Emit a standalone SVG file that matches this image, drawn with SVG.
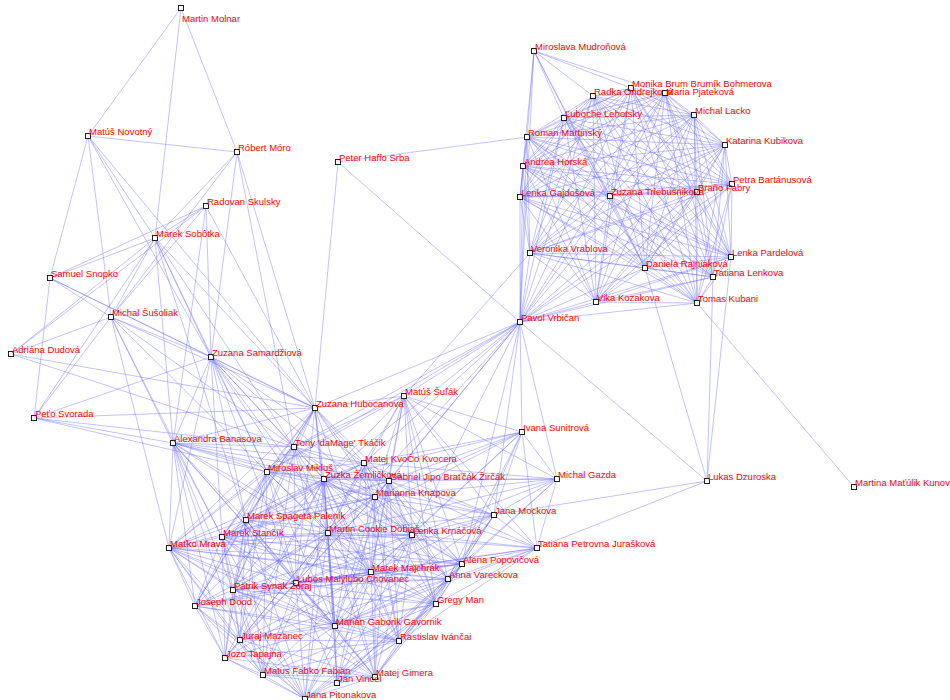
<svg xmlns="http://www.w3.org/2000/svg" xmlns:xlink="http://www.w3.org/1999/xlink" width="950" height="700" viewBox="0 0 950 700">
<style>
#edges path{fill:none;stroke:#6a6aff;stroke-opacity:.4;stroke-width:1}
.sq{fill:#fff;stroke:#222;stroke-width:1}
text{font-family:"Liberation Sans",Arial,sans-serif;font-size:9.5px;fill:#ff0000}
</style>
<defs><rect id="sq" class="sq" x="-2.5" y="-2.5" width="5" height="5"/></defs>
<rect width="950" height="700" fill="#fff"/>
<g id="edges">
<!-- upper-right group -->
<path d="M534 51L631 88"/><path d="M534 51L665 93"/><path d="M534 51L593 96"/><path d="M534 51L564 118"/><path d="M534 51L527 137"/><path d="M534 51L520 197"/><path d="M534 51L610 196"/><path d="M534 51L645 268"/><path d="M534 51L520 322"/>
<path d="M631 88L665 93"/><path d="M631 88L593 96"/><path d="M631 88L564 118"/><path d="M631 88L694 115"/><path d="M631 88L527 137"/><path d="M631 88L725 145"/><path d="M631 88L523 166"/><path d="M631 88L732 184"/><path d="M631 88L697 192"/><path d="M631 88L520 197"/><path d="M631 88L610 196"/><path d="M631 88L530 253"/><path d="M631 88L731 257"/><path d="M631 88L645 268"/><path d="M631 88L713 277"/><path d="M631 88L596 302"/><path d="M631 88L697 303"/><path d="M631 88L520 322"/>
<path d="M665 93L593 96"/><path d="M665 93L564 118"/><path d="M665 93L694 115"/><path d="M665 93L527 137"/><path d="M665 93L725 145"/><path d="M665 93L523 166"/><path d="M665 93L732 184"/><path d="M665 93L697 192"/><path d="M665 93L520 197"/><path d="M665 93L610 196"/><path d="M665 93L530 253"/><path d="M665 93L731 257"/><path d="M665 93L645 268"/><path d="M665 93L713 277"/><path d="M665 93L596 302"/><path d="M665 93L697 303"/><path d="M665 93L520 322"/>
<path d="M593 96L564 118"/><path d="M593 96L694 115"/><path d="M593 96L527 137"/><path d="M593 96L725 145"/><path d="M593 96L523 166"/><path d="M593 96L732 184"/><path d="M593 96L697 192"/><path d="M593 96L520 197"/><path d="M593 96L610 196"/><path d="M593 96L530 253"/><path d="M593 96L731 257"/><path d="M593 96L645 268"/><path d="M593 96L713 277"/><path d="M593 96L596 302"/><path d="M593 96L697 303"/><path d="M593 96L520 322"/>
<path d="M564 118L694 115"/><path d="M564 118L527 137"/><path d="M564 118L725 145"/><path d="M564 118L523 166"/><path d="M564 118L732 184"/><path d="M564 118L697 192"/><path d="M564 118L520 197"/><path d="M564 118L610 196"/><path d="M564 118L530 253"/><path d="M564 118L731 257"/><path d="M564 118L645 268"/><path d="M564 118L713 277"/><path d="M564 118L596 302"/><path d="M564 118L697 303"/><path d="M564 118L520 322"/>
<path d="M694 115L527 137"/><path d="M694 115L725 145"/><path d="M694 115L523 166"/><path d="M694 115L732 184"/><path d="M694 115L697 192"/><path d="M694 115L520 197"/><path d="M694 115L610 196"/><path d="M694 115L530 253"/><path d="M694 115L731 257"/><path d="M694 115L645 268"/><path d="M694 115L713 277"/><path d="M694 115L596 302"/><path d="M694 115L697 303"/><path d="M694 115L520 322"/>
<path d="M527 137L725 145"/><path d="M527 137L523 166"/><path d="M527 137L732 184"/><path d="M527 137L697 192"/><path d="M527 137L520 197"/><path d="M527 137L610 196"/><path d="M527 137L530 253"/><path d="M527 137L731 257"/><path d="M527 137L645 268"/><path d="M527 137L713 277"/><path d="M527 137L596 302"/><path d="M527 137L697 303"/><path d="M527 137L520 322"/>
<path d="M725 145L523 166"/><path d="M725 145L732 184"/><path d="M725 145L697 192"/><path d="M725 145L520 197"/><path d="M725 145L610 196"/><path d="M725 145L530 253"/><path d="M725 145L731 257"/><path d="M725 145L645 268"/><path d="M725 145L713 277"/><path d="M725 145L596 302"/><path d="M725 145L697 303"/><path d="M725 145L520 322"/>
<path d="M523 166L732 184"/><path d="M523 166L697 192"/><path d="M523 166L520 197"/><path d="M523 166L610 196"/><path d="M523 166L530 253"/><path d="M523 166L731 257"/><path d="M523 166L645 268"/><path d="M523 166L713 277"/><path d="M523 166L596 302"/><path d="M523 166L697 303"/><path d="M523 166L520 322"/>
<path d="M732 184L697 192"/><path d="M732 184L520 197"/><path d="M732 184L610 196"/><path d="M732 184L530 253"/><path d="M732 184L731 257"/><path d="M732 184L645 268"/><path d="M732 184L713 277"/><path d="M732 184L596 302"/><path d="M732 184L697 303"/><path d="M732 184L520 322"/>
<path d="M697 192L520 197"/><path d="M697 192L610 196"/><path d="M697 192L530 253"/><path d="M697 192L731 257"/><path d="M697 192L645 268"/><path d="M697 192L713 277"/><path d="M697 192L596 302"/><path d="M697 192L697 303"/><path d="M697 192L520 322"/>
<path d="M520 197L610 196"/><path d="M520 197L530 253"/><path d="M520 197L731 257"/><path d="M520 197L645 268"/><path d="M520 197L713 277"/><path d="M520 197L596 302"/><path d="M520 197L697 303"/><path d="M520 197L520 322"/>
<path d="M610 196L530 253"/><path d="M610 196L731 257"/><path d="M610 196L645 268"/><path d="M610 196L713 277"/><path d="M610 196L596 302"/><path d="M610 196L697 303"/><path d="M610 196L520 322"/>
<path d="M530 253L731 257"/><path d="M530 253L645 268"/><path d="M530 253L713 277"/><path d="M530 253L596 302"/><path d="M530 253L697 303"/><path d="M530 253L520 322"/>
<path d="M731 257L645 268"/><path d="M731 257L713 277"/><path d="M731 257L596 302"/><path d="M731 257L697 303"/><path d="M731 257L520 322"/>
<path d="M645 268L713 277"/><path d="M645 268L596 302"/><path d="M645 268L697 303"/><path d="M645 268L520 322"/>
<path d="M713 277L596 302"/><path d="M713 277L697 303"/><path d="M713 277L520 322"/>
<path d="M596 302L697 303"/><path d="M596 302L520 322"/><path d="M697 303L520 322"/>
<!-- links between the groups -->
<path d="M520 322L315 408"/><path d="M520 322L404 396"/><path d="M520 322L294 447"/><path d="M520 322L522 432"/><path d="M520 322L364 463"/><path d="M520 322L267 472"/><path d="M520 322L324 479"/><path d="M520 322L389 481"/><path d="M520 322L557 479"/><path d="M520 322L375 497"/><path d="M520 322L494 515"/><path d="M520 322L328 533"/><path d="M520 322L412 535"/><path d="M520 322L462 564"/>
<path d="M530 253L404 396"/>
<path d="M707 481L645 268"/><path d="M707 481L713 277"/><path d="M707 481L731 257"/><path d="M707 481L520 322"/><path d="M707 481L494 515"/><path d="M707 481L537 548"/>
<path d="M854 487L697 303"/>
<!-- left group -->
<path d="M181 8L88 136"/><path d="M181 8L237 152"/><path d="M181 8L155 238"/>
<path d="M88 136L237 152"/><path d="M88 136L50 278"/><path d="M88 136L111 317"/><path d="M88 136L155 238"/><path d="M88 136L211 357"/><path d="M88 136L315 408"/>
<path d="M237 152L155 238"/><path d="M237 152L111 317"/><path d="M237 152L211 357"/><path d="M237 152L315 408"/><path d="M237 152L294 447"/>
<path d="M206 206L155 238"/><path d="M206 206L50 278"/><path d="M206 206L111 317"/><path d="M206 206L11 354"/><path d="M206 206L211 357"/><path d="M206 206L315 408"/><path d="M206 206L173 443"/>
<path d="M338 162L527 137"/><path d="M338 162L315 408"/><path d="M338 162L520 322"/>
<path d="M155 238L50 278"/><path d="M155 238L111 317"/><path d="M155 238L11 354"/><path d="M155 238L211 357"/><path d="M155 238L34 418"/><path d="M155 238L315 408"/><path d="M155 238L173 443"/><path d="M155 238L294 447"/><path d="M155 238L267 472"/><path d="M155 238L246 520"/>
<path d="M50 278L111 317"/><path d="M50 278L211 357"/><path d="M50 278L34 418"/><path d="M50 278L315 408"/>
<path d="M111 317L11 354"/><path d="M111 317L211 357"/><path d="M111 317L34 418"/><path d="M111 317L315 408"/><path d="M111 317L173 443"/><path d="M111 317L294 447"/><path d="M111 317L169 548"/><path d="M111 317L222 537"/><path d="M111 317L267 472"/>
<path d="M11 354L315 408"/><path d="M11 354L294 447"/>
<path d="M211 357L34 418"/><path d="M211 357L315 408"/><path d="M211 357L173 443"/><path d="M211 357L294 447"/><path d="M211 357L267 472"/><path d="M211 357L324 479"/><path d="M211 357L246 520"/><path d="M211 357L328 533"/><path d="M211 357L222 537"/><path d="M211 357L169 548"/><path d="M211 357L296 583"/><path d="M211 357L364 463"/><path d="M211 357L371 572"/><path d="M211 357L375 497"/>
<path d="M34 418L315 408"/><path d="M34 418L173 443"/><path d="M34 418L294 447"/><path d="M34 418L267 472"/>
<!-- lower group -->
<path d="M315 408L404 396"/><path d="M315 408L173 443"/><path d="M315 408L294 447"/><path d="M315 408L364 463"/><path d="M315 408L267 472"/><path d="M315 408L324 479"/><path d="M315 408L389 481"/><path d="M315 408L375 497"/><path d="M315 408L246 520"/><path d="M315 408L328 533"/><path d="M315 408L222 537"/><path d="M315 408L169 548"/><path d="M315 408L371 572"/><path d="M315 408L296 583"/><path d="M315 408L233 590"/><path d="M315 408L335 626"/><path d="M315 408L412 535"/><path d="M315 408L195 606"/>
<path d="M404 396L294 447"/><path d="M404 396L522 432"/><path d="M404 396L364 463"/><path d="M404 396L324 479"/><path d="M404 396L389 481"/><path d="M404 396L557 479"/><path d="M404 396L375 497"/><path d="M404 396L494 515"/><path d="M404 396L328 533"/><path d="M404 396L412 535"/><path d="M404 396L537 548"/><path d="M404 396L462 564"/><path d="M404 396L371 572"/><path d="M404 396L448 579"/><path d="M404 396L267 472"/><path d="M404 396L436 604"/>
<path d="M173 443L294 447"/><path d="M173 443L267 472"/><path d="M173 443L324 479"/><path d="M173 443L246 520"/><path d="M173 443L328 533"/><path d="M173 443L222 537"/><path d="M173 443L169 548"/><path d="M173 443L296 583"/><path d="M173 443L233 590"/><path d="M173 443L195 606"/><path d="M173 443L240 640"/><path d="M173 443L225 658"/><path d="M173 443L364 463"/><path d="M173 443L375 497"/><path d="M173 443L371 572"/><path d="M173 443L335 626"/><path d="M173 443L389 481"/>
<path d="M294 447L364 463"/><path d="M294 447L267 472"/><path d="M294 447L324 479"/><path d="M294 447L389 481"/><path d="M294 447L375 497"/><path d="M294 447L246 520"/><path d="M294 447L328 533"/><path d="M294 447L222 537"/><path d="M294 447L296 583"/><path d="M294 447L233 590"/><path d="M294 447L371 572"/><path d="M294 447L335 626"/><path d="M294 447L169 548"/><path d="M294 447L412 535"/><path d="M294 447L263 675"/>
<path d="M522 432L364 463"/><path d="M522 432L324 479"/><path d="M522 432L389 481"/><path d="M522 432L557 479"/><path d="M522 432L375 497"/><path d="M522 432L494 515"/><path d="M522 432L412 535"/><path d="M522 432L537 548"/><path d="M522 432L462 564"/><path d="M522 432L448 579"/><path d="M522 432L328 533"/><path d="M522 432L371 572"/>
<path d="M364 463L267 472"/><path d="M364 463L324 479"/><path d="M364 463L389 481"/><path d="M364 463L557 479"/><path d="M364 463L375 497"/><path d="M364 463L494 515"/><path d="M364 463L246 520"/><path d="M364 463L328 533"/><path d="M364 463L412 535"/><path d="M364 463L222 537"/><path d="M364 463L371 572"/><path d="M364 463L296 583"/><path d="M364 463L335 626"/><path d="M364 463L462 564"/><path d="M364 463L448 579"/><path d="M364 463L399 641"/>
<path d="M267 472L324 479"/><path d="M267 472L389 481"/><path d="M267 472L375 497"/><path d="M267 472L246 520"/><path d="M267 472L328 533"/><path d="M267 472L222 537"/><path d="M267 472L169 548"/><path d="M267 472L296 583"/><path d="M267 472L233 590"/><path d="M267 472L195 606"/><path d="M267 472L335 626"/><path d="M267 472L240 640"/><path d="M267 472L371 572"/><path d="M267 472L263 675"/><path d="M267 472L412 535"/>
<path d="M324 479L389 481"/><path d="M324 479L557 479"/><path d="M324 479L375 497"/><path d="M324 479L246 520"/><path d="M324 479L328 533"/><path d="M324 479L412 535"/><path d="M324 479L222 537"/><path d="M324 479L169 548"/><path d="M324 479L371 572"/><path d="M324 479L296 583"/><path d="M324 479L233 590"/><path d="M324 479L335 626"/><path d="M324 479L399 641"/><path d="M324 479L375 677"/><path d="M324 479L337 683"/><path d="M324 479L305 699"/><path d="M324 479L195 606"/><path d="M324 479L240 640"/><path d="M324 479L225 658"/><path d="M324 479L494 515"/><path d="M324 479L462 564"/><path d="M324 479L448 579"/><path d="M324 479L436 604"/>
<path d="M389 481L557 479"/><path d="M389 481L375 497"/><path d="M389 481L494 515"/><path d="M389 481L328 533"/><path d="M389 481L412 535"/><path d="M389 481L537 548"/><path d="M389 481L462 564"/><path d="M389 481L371 572"/><path d="M389 481L448 579"/><path d="M389 481L296 583"/><path d="M389 481L436 604"/><path d="M389 481L335 626"/><path d="M389 481L399 641"/><path d="M389 481L246 520"/><path d="M389 481L222 537"/><path d="M389 481L375 677"/>
<path d="M557 479L375 497"/><path d="M557 479L494 515"/><path d="M557 479L412 535"/><path d="M557 479L537 548"/><path d="M557 479L462 564"/><path d="M557 479L328 533"/><path d="M557 479L448 579"/>
<path d="M375 497L494 515"/><path d="M375 497L246 520"/><path d="M375 497L328 533"/><path d="M375 497L412 535"/><path d="M375 497L222 537"/><path d="M375 497L537 548"/><path d="M375 497L462 564"/><path d="M375 497L371 572"/><path d="M375 497L448 579"/><path d="M375 497L296 583"/><path d="M375 497L436 604"/><path d="M375 497L335 626"/><path d="M375 497L399 641"/><path d="M375 497L375 677"/><path d="M375 497L337 683"/><path d="M375 497L169 548"/><path d="M375 497L233 590"/>
<path d="M494 515L328 533"/><path d="M494 515L412 535"/><path d="M494 515L537 548"/><path d="M494 515L462 564"/><path d="M494 515L371 572"/><path d="M494 515L448 579"/><path d="M494 515L436 604"/><path d="M494 515L399 641"/><path d="M494 515L335 626"/><path d="M494 515L296 583"/>
<path d="M246 520L328 533"/><path d="M246 520L222 537"/><path d="M246 520L169 548"/><path d="M246 520L371 572"/><path d="M246 520L296 583"/><path d="M246 520L233 590"/><path d="M246 520L195 606"/><path d="M246 520L335 626"/><path d="M246 520L240 640"/><path d="M246 520L225 658"/><path d="M246 520L263 675"/><path d="M246 520L412 535"/><path d="M246 520L305 699"/><path d="M246 520L375 677"/>
<path d="M328 533L412 535"/><path d="M328 533L222 537"/><path d="M328 533L169 548"/><path d="M328 533L537 548"/><path d="M328 533L462 564"/><path d="M328 533L371 572"/><path d="M328 533L448 579"/><path d="M328 533L296 583"/><path d="M328 533L233 590"/><path d="M328 533L195 606"/><path d="M328 533L436 604"/><path d="M328 533L335 626"/><path d="M328 533L240 640"/><path d="M328 533L399 641"/><path d="M328 533L225 658"/><path d="M328 533L263 675"/><path d="M328 533L375 677"/><path d="M328 533L337 683"/><path d="M328 533L305 699"/>
<path d="M412 535L222 537"/><path d="M412 535L537 548"/><path d="M412 535L462 564"/><path d="M412 535L371 572"/><path d="M412 535L448 579"/><path d="M412 535L296 583"/><path d="M412 535L436 604"/><path d="M412 535L335 626"/><path d="M412 535L399 641"/><path d="M412 535L375 677"/><path d="M412 535L337 683"/><path d="M412 535L169 548"/><path d="M412 535L233 590"/><path d="M412 535L305 699"/>
<path d="M222 537L169 548"/><path d="M222 537L371 572"/><path d="M222 537L296 583"/><path d="M222 537L233 590"/><path d="M222 537L195 606"/><path d="M222 537L335 626"/><path d="M222 537L240 640"/><path d="M222 537L225 658"/><path d="M222 537L263 675"/><path d="M222 537L305 699"/><path d="M222 537L462 564"/><path d="M222 537L436 604"/><path d="M222 537L375 677"/>
<path d="M169 548L371 572"/><path d="M169 548L296 583"/><path d="M169 548L233 590"/><path d="M169 548L195 606"/><path d="M169 548L335 626"/><path d="M169 548L240 640"/><path d="M169 548L225 658"/><path d="M169 548L263 675"/><path d="M169 548L305 699"/><path d="M169 548L448 579"/><path d="M169 548L462 564"/><path d="M169 548L399 641"/><path d="M169 548L375 677"/>
<path d="M537 548L462 564"/><path d="M537 548L371 572"/><path d="M537 548L448 579"/><path d="M537 548L436 604"/><path d="M537 548L296 583"/><path d="M537 548L335 626"/><path d="M537 548L399 641"/>
<path d="M462 564L371 572"/><path d="M462 564L448 579"/><path d="M462 564L296 583"/><path d="M462 564L436 604"/><path d="M462 564L335 626"/><path d="M462 564L399 641"/><path d="M462 564L375 677"/><path d="M462 564L337 683"/><path d="M462 564L233 590"/><path d="M462 564L195 606"/>
<path d="M371 572L448 579"/><path d="M371 572L296 583"/><path d="M371 572L233 590"/><path d="M371 572L195 606"/><path d="M371 572L436 604"/><path d="M371 572L335 626"/><path d="M371 572L240 640"/><path d="M371 572L399 641"/><path d="M371 572L225 658"/><path d="M371 572L263 675"/><path d="M371 572L375 677"/><path d="M371 572L337 683"/><path d="M371 572L305 699"/>
<path d="M448 579L296 583"/><path d="M448 579L436 604"/><path d="M448 579L335 626"/><path d="M448 579L399 641"/><path d="M448 579L375 677"/><path d="M448 579L337 683"/><path d="M448 579L305 699"/><path d="M448 579L233 590"/><path d="M448 579L240 640"/>
<path d="M296 583L233 590"/><path d="M296 583L195 606"/><path d="M296 583L436 604"/><path d="M296 583L335 626"/><path d="M296 583L240 640"/><path d="M296 583L399 641"/><path d="M296 583L225 658"/><path d="M296 583L263 675"/><path d="M296 583L375 677"/><path d="M296 583L337 683"/><path d="M296 583L305 699"/>
<path d="M233 590L195 606"/><path d="M233 590L335 626"/><path d="M233 590L240 640"/><path d="M233 590L225 658"/><path d="M233 590L263 675"/><path d="M233 590L305 699"/><path d="M233 590L436 604"/><path d="M233 590L399 641"/>
<path d="M195 606L335 626"/><path d="M195 606L240 640"/><path d="M195 606L225 658"/><path d="M195 606L263 675"/><path d="M195 606L305 699"/><path d="M195 606L399 641"/>
<path d="M436 604L335 626"/><path d="M436 604L399 641"/><path d="M436 604L375 677"/><path d="M436 604L337 683"/><path d="M436 604L305 699"/><path d="M436 604L240 640"/><path d="M436 604L263 675"/>
<path d="M335 626L240 640"/><path d="M335 626L399 641"/><path d="M335 626L225 658"/><path d="M335 626L263 675"/><path d="M335 626L375 677"/><path d="M335 626L337 683"/><path d="M335 626L305 699"/>
<path d="M240 640L225 658"/><path d="M240 640L263 675"/><path d="M240 640L305 699"/><path d="M240 640L399 641"/><path d="M240 640L375 677"/>
<path d="M399 641L375 677"/><path d="M399 641L337 683"/><path d="M399 641L305 699"/><path d="M399 641L225 658"/><path d="M399 641L263 675"/>
<path d="M225 658L263 675"/><path d="M225 658L305 699"/><path d="M225 658L375 677"/>
<path d="M263 675L337 683"/><path d="M263 675L305 699"/><path d="M263 675L375 677"/>
<path d="M375 677L337 683"/><path d="M375 677L305 699"/><path d="M337 683L305 699"/>
</g>
<g id="nodes">
<g id="n-miroslava-mudronova"><use xlink:href="#sq" x="534" y="51"/><text x="535" y="50">Miroslava Mudroňová</text></g>
<g id="n-monika-bohmerova"><use xlink:href="#sq" x="631" y="88"/><text x="632" y="87">Monika Brum Brumík Bohmerova</text></g>
<g id="n-radka-ondrejkova"><use xlink:href="#sq" x="593" y="96"/><text x="594" y="95">Radka Ondrejková</text></g>
<g id="n-maria-pjatekova"><use xlink:href="#sq" x="665" y="93"/><text x="666" y="95">Maria Pjateková</text></g>
<g id="n-luboche-lehotsky"><use xlink:href="#sq" x="564" y="118"/><text x="565" y="117">Ľuboche Lehotsky</text></g>
<g id="n-michal-lacko"><use xlink:href="#sq" x="694" y="115"/><text x="695" y="114">Michal Lacko</text></g>
<g id="n-roman-martinsky"><use xlink:href="#sq" x="527" y="137"/><text x="528" y="136">Roman Martinský</text></g>
<g id="n-katarina-kubikova"><use xlink:href="#sq" x="725" y="145"/><text x="726" y="144">Katarina Kubikova</text></g>
<g id="n-andrea-horska"><use xlink:href="#sq" x="523" y="166"/><text x="524" y="165">Andrea Horská</text></g>
<g id="n-petra-bartanusova"><use xlink:href="#sq" x="732" y="184"/><text x="733" y="183">Petra Bartánusová</text></g>
<g id="n-brano-fabry"><use xlink:href="#sq" x="697" y="192"/><text x="698" y="191">Braňo Fabry</text></g>
<g id="n-lenka-gajdosova"><use xlink:href="#sq" x="520" y="197"/><text x="521" y="196">Lenka Gajdošová</text></g>
<g id="n-zuzana-triebusnikova"><use xlink:href="#sq" x="610" y="196"/><text x="611" y="195">Zuzana Triebusniková</text></g>
<g id="n-veronika-vrablova"><use xlink:href="#sq" x="530" y="253"/><text x="531" y="252">Veronika Vrablova</text></g>
<g id="n-lenka-pardelova"><use xlink:href="#sq" x="731" y="257"/><text x="732" y="256">Lenka Pardelová</text></g>
<g id="n-daniela-rajniakova"><use xlink:href="#sq" x="645" y="268"/><text x="646" y="267">Daniela Rajniaková</text></g>
<g id="n-tatiana-lenkova"><use xlink:href="#sq" x="713" y="277"/><text x="714" y="276">Tatiana Lenkova</text></g>
<g id="n-vika-kozakova"><use xlink:href="#sq" x="596" y="302"/><text x="597" y="301">Vika Kozakova</text></g>
<g id="n-tomas-kubani"><use xlink:href="#sq" x="697" y="303"/><text x="698" y="302">Tomas Kubani</text></g>
<g id="n-pavol-vrbican"><use xlink:href="#sq" x="520" y="322"/><text x="521" y="321">Pavol Vrbičan</text></g>
<g id="n-martin-molnar"><use xlink:href="#sq" x="181" y="8"/><text x="182" y="22">Martin Molnar</text></g>
<g id="n-matus-novotny"><use xlink:href="#sq" x="88" y="136"/><text x="89" y="135">Matúš Novotný</text></g>
<g id="n-robert-moro"><use xlink:href="#sq" x="237" y="152"/><text x="238" y="151">Róbert Móro</text></g>
<g id="n-radovan-skulsky"><use xlink:href="#sq" x="206" y="206"/><text x="207" y="205">Radovan Skulsky</text></g>
<g id="n-peter-haffo-srba"><use xlink:href="#sq" x="338" y="162"/><text x="339" y="161">Peter Haffo Srba</text></g>
<g id="n-marek-sobotka"><use xlink:href="#sq" x="155" y="238"/><text x="156" y="237">Marek Sobôtka</text></g>
<g id="n-samuel-snopko"><use xlink:href="#sq" x="50" y="278"/><text x="51" y="277">Samuel Snopko</text></g>
<g id="n-michal-susoliak"><use xlink:href="#sq" x="111" y="317"/><text x="112" y="316">Michal Šušoliak</text></g>
<g id="n-adriana-dudova"><use xlink:href="#sq" x="11" y="354"/><text x="12" y="353">Adriána Dudová</text></g>
<g id="n-zuzana-samardziova"><use xlink:href="#sq" x="211" y="357"/><text x="212" y="356">Zuzana Samardžiová</text></g>
<g id="n-peto-svorada"><use xlink:href="#sq" x="34" y="418"/><text x="35" y="417">Peťo Svorada</text></g>
<g id="n-zuzana-hubocanova"><use xlink:href="#sq" x="315" y="408"/><text x="316" y="407">Zuzana Hubocanova</text></g>
<g id="n-matus-sulak"><use xlink:href="#sq" x="404" y="396"/><text x="405" y="395">Matúš Šuľák</text></g>
<g id="n-alexandra-banasova"><use xlink:href="#sq" x="173" y="443"/><text x="174" y="442">Alexandra Banasova</text></g>
<g id="n-tony-tkacik"><use xlink:href="#sq" x="294" y="447"/><text x="295" y="446">Tony 'daMage' Tkáčik</text></g>
<g id="n-ivana-sunitrova"><use xlink:href="#sq" x="522" y="432"/><text x="523" y="431">Ivana Sunitrová</text></g>
<g id="n-matej-kvocera"><use xlink:href="#sq" x="364" y="463"/><text x="365" y="462">Matej KvoČo Kvocera</text></g>
<g id="n-miroslav-miklus"><use xlink:href="#sq" x="267" y="472"/><text x="268" y="471">Miroslav Mikluš</text></g>
<g id="n-zuzka-zemlickova"><use xlink:href="#sq" x="324" y="479"/><text x="325" y="478">Zuzka Žemličková</text></g>
<g id="n-gabriel-zircak"><use xlink:href="#sq" x="389" y="481"/><text x="390" y="480">Gabriel Jipo Braťčák Žirčák</text></g>
<g id="n-michal-gazda"><use xlink:href="#sq" x="557" y="479"/><text x="558" y="478">Michal Gazda</text></g>
<g id="n-marianna-knapova"><use xlink:href="#sq" x="375" y="497"/><text x="376" y="496">Marianna Knapova</text></g>
<g id="n-jana-mockova"><use xlink:href="#sq" x="494" y="515"/><text x="495" y="514">Jana Mockova</text></g>
<g id="n-marek-palenik"><use xlink:href="#sq" x="246" y="520"/><text x="247" y="519">Marek Spageta Palenik</text></g>
<g id="n-martin-dobias"><use xlink:href="#sq" x="328" y="533"/><text x="329" y="532">Martin Cookie Dobiaš</text></g>
<g id="n-lenka-krnacova"><use xlink:href="#sq" x="412" y="535"/><text x="413" y="534">Lenka Krnáčová</text></g>
<g id="n-marek-stancik"><use xlink:href="#sq" x="222" y="537"/><text x="223" y="536">Marek Stančík</text></g>
<g id="n-matko-mrava"><use xlink:href="#sq" x="169" y="548"/><text x="170" y="547">Maťko Mrava</text></g>
<g id="n-tatiana-juraskova"><use xlink:href="#sq" x="537" y="548"/><text x="538" y="547">Tatiana Petrovna Jurašková</text></g>
<g id="n-alena-popovicova"><use xlink:href="#sq" x="462" y="564"/><text x="463" y="563">Alena Popovičová</text></g>
<g id="n-marek-majchrak"><use xlink:href="#sq" x="371" y="572"/><text x="372" y="571">Marek Majchrák</text></g>
<g id="n-anna-vareckova"><use xlink:href="#sq" x="448" y="579"/><text x="449" y="578">Anna Vareckova</text></g>
<g id="n-lubos-chovanec"><use xlink:href="#sq" x="296" y="583"/><text x="297" y="582">Lubos Malylubo Chovanec</text></g>
<g id="n-patrik-zoraj"><use xlink:href="#sq" x="233" y="590"/><text x="234" y="589">Patrik Synak Žoraj</text></g>
<g id="n-joseph-dood"><use xlink:href="#sq" x="195" y="606"/><text x="196" y="605">Joseph Dood</text></g>
<g id="n-gregy-man"><use xlink:href="#sq" x="436" y="604"/><text x="437" y="603">Gregy Man</text></g>
<g id="n-marian-gavornik"><use xlink:href="#sq" x="335" y="626"/><text x="336" y="625">Marian Gaborik Gavornik</text></g>
<g id="n-juraj-mazanec"><use xlink:href="#sq" x="240" y="640"/><text x="241" y="639">Juraj Mazanec</text></g>
<g id="n-rastislav-ivancai"><use xlink:href="#sq" x="399" y="641"/><text x="400" y="640">Rastislav Ivánčai</text></g>
<g id="n-jozo-tapajna"><use xlink:href="#sq" x="225" y="658"/><text x="226" y="657">Jozo Tapajna</text></g>
<g id="n-matus-fabian"><use xlink:href="#sq" x="263" y="675"/><text x="264" y="674">Matus Fabko Fabian</text></g>
<g id="n-matej-gimera"><use xlink:href="#sq" x="375" y="677"/><text x="376" y="676">Matej Gimera</text></g>
<g id="n-jan-vincel"><use xlink:href="#sq" x="337" y="683"/><text x="338" y="682">Jan Vincel</text></g>
<g id="n-jana-pitonakova"><use xlink:href="#sq" x="305" y="699"/><text x="306" y="698">Jana Pitonakova</text></g>
<g id="n-lukas-dzuroska"><use xlink:href="#sq" x="707" y="481"/><text x="708" y="480">Lukas Dzuroska</text></g>
<g id="n-martina-kunova"><use xlink:href="#sq" x="854" y="487"/><text x="855" y="486">Martina Maťúlik Kunová</text></g>
</g>
</svg>
